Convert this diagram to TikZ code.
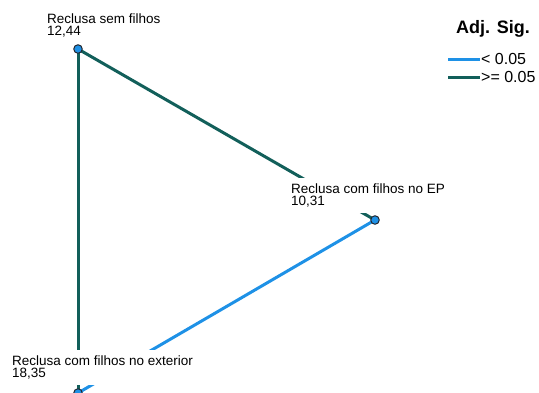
\documentclass[tikz,border=0pt]{standalone}
\usepackage{fontspec}
\setmainfont{Liberation Sans}
\usepackage{tikz}
\definecolor{white}{RGB}{255,255,255}
\definecolor{dark_line}{RGB}{35,40,50}
\definecolor{sig_blue}{RGB}{30,145,230}
\definecolor{ns_teal}{RGB}{18,95,90}

\begin{document}
\begin{tikzpicture}[x=1pt,y=-1pt,
	grp/.style={circle,draw=dark_line,fill=sig_blue,inner sep=0pt,minimum size=8.5pt,line width=1pt},
	lbl/.style={anchor=north west,fill=white,inner xsep=3pt,inner ysep=5.5pt,align=left,font=\fontsize{13.5}{12}\selectfont},
	sig/.style={sig_blue,line width=3pt},
	nsig/.style={ns_teal,line width=3pt}]
	\useasboundingbox (0,0) rectangle (539,392);
	\clip (0,0) rectangle (539,392);
	\coordinate (semc) at (78,49);
	\coordinate (epc) at (375,220);
	\coordinate (extc) at (78,393);
	
	\draw[nsig] (semc) -- (epc);
	\draw[nsig] (semc) -- (extc);
	\draw[sig] (extc) -- (epc);
	
	\node[lbl] (semlbl) at (44,8.5) {Reclusa sem filhos\\12,44};
	\node[lbl] (eplbl) at (288,178) {Reclusa com filhos no EP\\10,31};
	\node[lbl] (extlbl) at (9,350) {Reclusa com filhos no exterior\\18,35};
	
	\node[grp] (sem) at (semc) {};
	\node[grp] (ep) at (epc) {};
	\node[grp] (ext) at (extc) {};
	
	% legenda
	\node[anchor=north west,inner sep=0pt,font=\fontsize{18}{18}\selectfont\bfseries] (leg) at (456,20) {Adj. Sig.};
	\coordinate (la) at (448,59);
	\coordinate (lb) at (480,59);
	\coordinate (lc) at (448,77);
	\coordinate (ld) at (480,77);
	\draw[sig] (la) -- (lb);
	\draw[nsig] (lc) -- (ld);
	\node[anchor=west,inner sep=1pt,font=\fontsize{16}{16}\selectfont] (lt1) at (lb) {< 0.05};
	\node[anchor=west,inner sep=1pt,font=\fontsize{16}{16}\selectfont] (lt2) at (ld) {>= 0.05};
\end{tikzpicture}
\end{document}
